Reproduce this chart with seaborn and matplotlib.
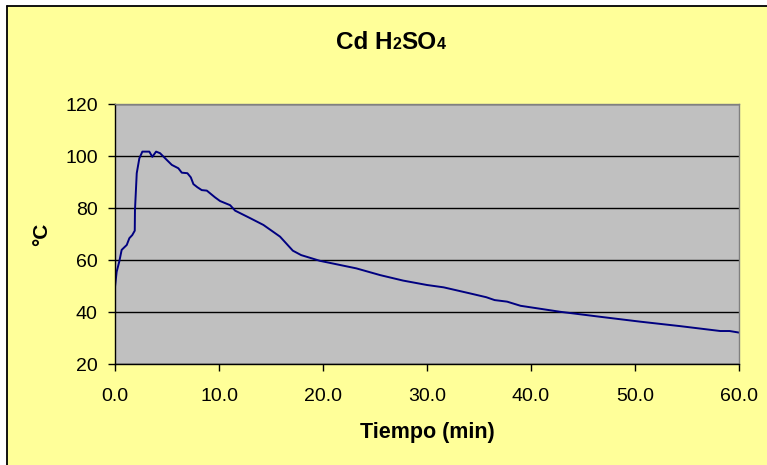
import numpy as np
import pandas as pd
import matplotlib
matplotlib.use("Agg")
import matplotlib.pyplot as plt
import seaborn as sns
from matplotlib.patches import Rectangle
from matplotlib.lines import Line2D

# ---- data ----
tiempo = [0.0, 0.16, 0.41, 0.64, 1.13, 1.38, 1.66, 1.9, 1.92, 2.09, 2.34, 2.63,
          3.3, 3.59, 3.95, 4.33, 4.98, 5.46, 6.09, 6.42, 6.96, 7.29, 7.54, 7.92,
          8.34, 8.83, 9.62, 10.1, 11.07, 11.55, 13.0, 14.27, 15.87, 17.1, 17.9,
          19.7, 23.2, 25.5, 27.7, 30.0, 31.6, 34.1, 35.7, 36.5, 37.7, 39.0,
          42.8, 46.6, 50.5, 54.3, 58.2, 59.1, 60.0]
temperatura = [49.8, 55.6, 59.5, 64.0, 65.9, 68.5, 69.7, 71.4, 79.3, 93.5, 99.2, 101.8,
               101.8, 99.8, 101.8, 101.2, 98.6, 96.7, 95.4, 93.7, 93.5, 91.9, 89.3, 88.1,
               87.0, 86.8, 84.2, 82.8, 81.2, 79.1, 76.2, 73.6, 69.1, 63.7, 62.0,
               59.8, 56.9, 54.3, 52.2, 50.5, 49.6, 47.3, 45.8, 44.7, 44.1, 42.5,
               40.2, 38.3, 36.4, 34.7, 32.8, 32.8, 32.2]
x_ticks = [0, 10, 20, 30, 40, 50, 60]
y_ticks = [20, 40, 60, 80, 100, 120]
title_parts = [("Cd H", False), ("2", True), ("SO", False), ("4", True)]
x_label = "Tiempo (min)"
y_label = "°C"

df = pd.DataFrame({"Tiempo": tiempo, "T": temperatura})

sns.set_theme(style="white")
plt.rcParams["font.family"] = ["Liberation Sans", "DejaVu Sans"]

W, H = 767, 465
fig = plt.figure(figsize=(W / 100, H / 100), dpi=100)
fig.patch.set_facecolor("white")
# yellow chart area with black border on top/left only
bg = Rectangle((6.5 / W, 0), 1, 1 - 6.5 / H, transform=fig.transFigure,
               facecolor="#FFFF99", edgecolor="none", zorder=-10)
fig.patches.append(bg)
fig.lines.append(Line2D([6.5 / W, 6.5 / W], [0, 1 - 6.5 / H], transform=fig.transFigure,
                        color="black", linewidth=1.3))
fig.lines.append(Line2D([6.5 / W, 1], [1 - 6.5 / H, 1 - 6.5 / H], transform=fig.transFigure,
                        color="black", linewidth=1.3))

ax = fig.add_axes([115 / W, 1 - 364.3 / H, (739 - 115) / W, (364.3 - 104.3) / H])
ax.set_facecolor("#C0C0C0")

sns.lineplot(data=df, x="Tiempo", y="T", ax=ax, color="#000080", linewidth=1.4,
             estimator=None, sort=False)

ax.set_xlim(0, 60)
ax.set_ylim(20, 120)
ax.set_xticks(x_ticks)
ax.set_xticklabels([f"{v:.1f}" for v in x_ticks])
ax.set_yticks(y_ticks)
ax.set_yticklabels([str(v) for v in y_ticks])
ax.yaxis.grid(True, color="black", linewidth=1.0)
ax.xaxis.grid(False)
ax.set_axisbelow(True)

for s in ["left", "bottom"]:
    ax.spines[s].set_color("black")
    ax.spines[s].set_linewidth(1.0)
for s in ["top", "right"]:
    ax.spines[s].set_color("#808080")
    ax.spines[s].set_linewidth(1.0)

ax.tick_params(axis="both", which="major", direction="out", length=5, width=1,
               color="black", labelsize=14, labelcolor="black", bottom=True, left=True)
ax.tick_params(axis="x", pad=12)
ax.tick_params(axis="y", pad=7.5)

ax.set_xlabel(x_label, fontsize=15.5, fontweight="bold", labelpad=12, color="black")
ax.set_ylabel(y_label, fontsize=15, fontweight="bold", labelpad=10, color="black")

# title with small "2" and "4"
fig.canvas.draw()
renderer = fig.canvas.get_renderer()
texts = []
for part, small in title_parts:
    t = fig.text(0, 0, part, fontsize=11.5 if small else 17.5, fontweight="bold",
                 ha="left", va="baseline", transform=None, color="black")
    texts.append(t)
widths = [t.get_window_extent(renderer).width for t in texts]
total = sum(widths)
x_px = 391 - total / 2
y_px = H - 49
for t, w in zip(texts, widths):
    t.set_position((x_px, y_px))
    x_px += w

fig.savefig("out.png", dpi=100)
